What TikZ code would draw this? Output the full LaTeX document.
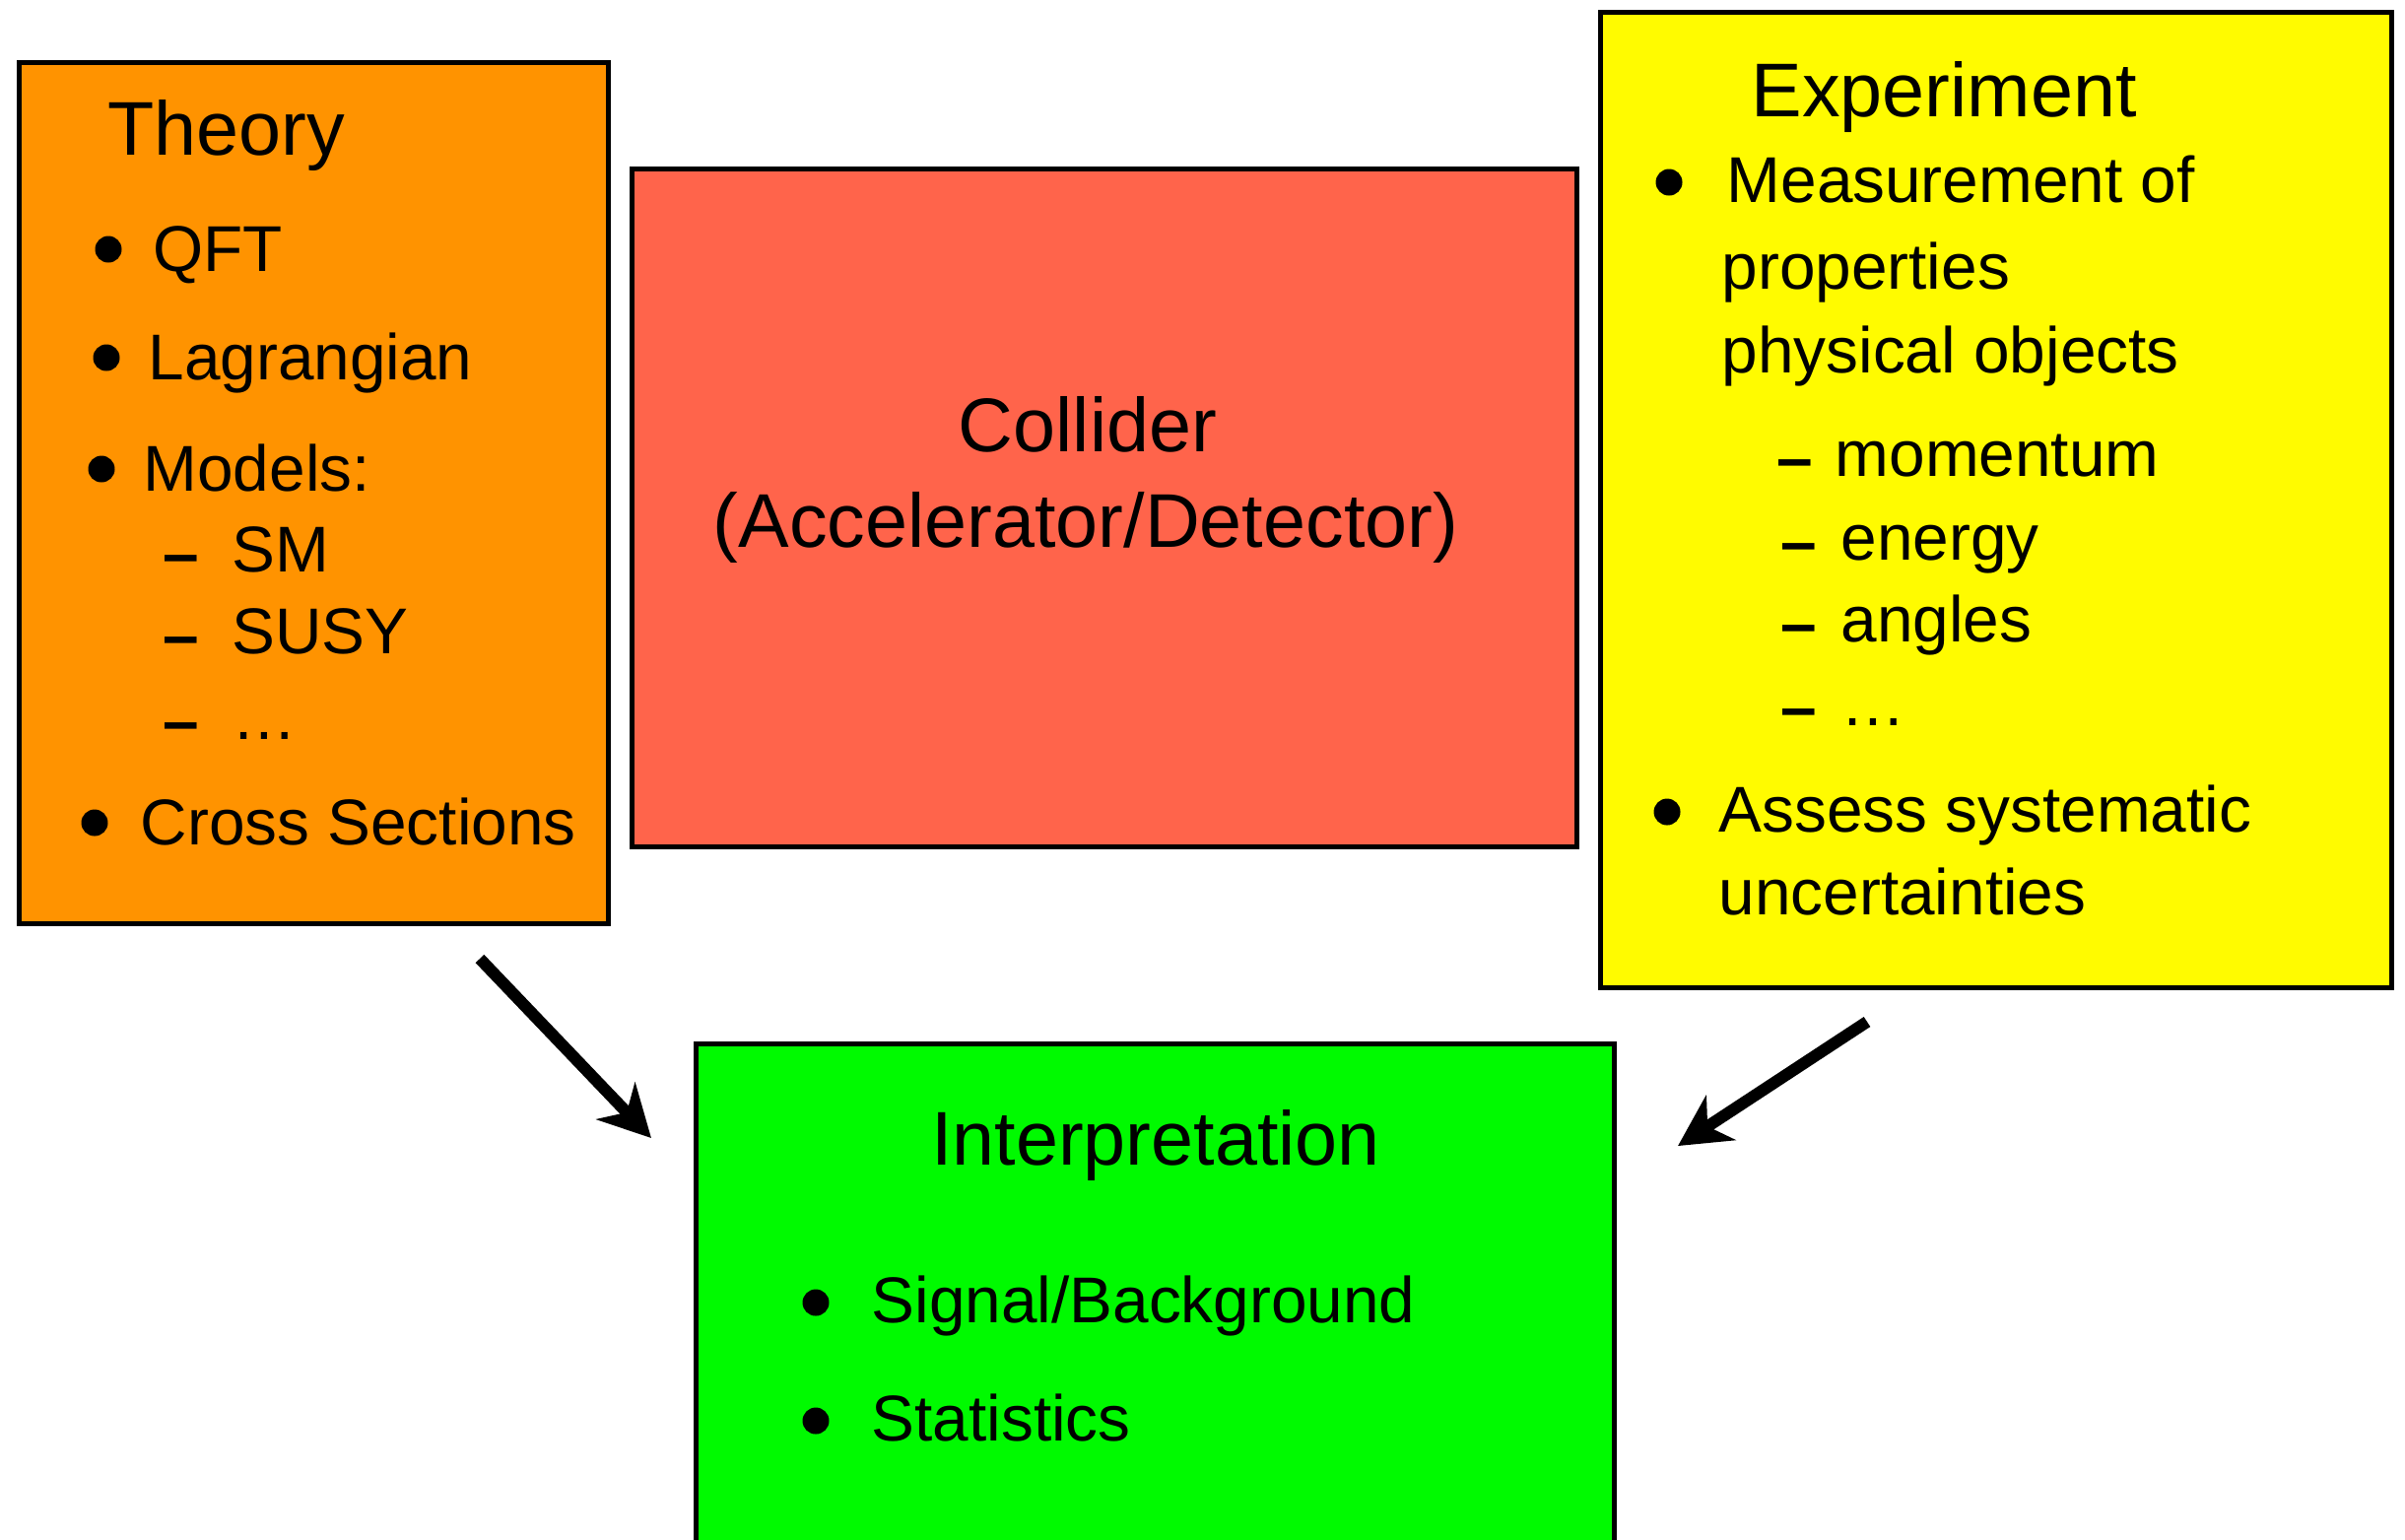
\documentclass[tikz,border=0pt]{standalone}
\usepackage{fontspec}
\setmainfont{Liberation Sans}
\usetikzlibrary{arrows.meta,fit}

\definecolor{theorycol}{RGB}{255,147,0}
\definecolor{collidercol}{RGB}{255,100,75}
\definecolor{experimentcol}{RGB}{255,251,0}
\definecolor{interpcol}{RGB}{0,250,0}

\begin{document}
\begin{tikzpicture}[x=0.1mm,y=-0.1mm]
      \tikzset{
        box/.style={draw,line width=0.5mm,inner sep=0pt},
        title/.style={font=\fontsize{22}{26}\selectfont,anchor=base,inner sep=0pt},
        txt/.style={font=\fontsize{18.7}{22}\selectfont,anchor=base west,inner sep=0pt},
        bul/.style={circle,fill,inner sep=0pt,minimum size=2.7mm},
        dsh/.style={font=\bfseries\fontsize{18.7}{22}\selectfont,anchor=base,inner sep=0pt,yshift=-0.4mm},
        flow/.style={line width=1.2mm,-{Stealth[length=5.2mm,width=5.4mm,inset=1.6mm]}}
      }

      \clip (0,0) rectangle (2441,1562);
      \fill[white] (0,0) rectangle (2441,1562);

      % BOXES
      \node[box,fill=theorycol,fit={(19,63) (617,937)}] (theory) {};
      \node[box,fill=collidercol,fit={(641,171) (1600,859)}] (collider) {};
      \node[box,fill=experimentcol,fit={(1624,12) (2427,1002)}] (experiment) {};
      \node[box,fill=interpcol,fit={(706,1059) (1638,1640)}] (interp) {};

      % THEORY
      \node[title] (thtitle) at (230,157) {Theory};
      \foreach \bx/\tx/\y/\t [count=\i] in
        {110/155/275/QFT, 108/150/385/Lagrangian, 103/145/498/Models:,
         96/142/857/Cross Sections}
        {\node[bul] (thb\i) at (\bx,{\y-22}) {};
         \node[txt] (tht\i) at (\tx,\y) {\t};}
      \foreach \bx/\tx/\y/\t [count=\i] in
        {184/235/580/SM, 184/235/663/SUSY, 184/235/750/…}
        {\node[dsh] (thd\i) at (\bx,\y) {–};
         \node[txt] (ths\i) at (\tx,\y) {\t};}

      % COLLIDER
      \node[title] (coltitle) at (1104,458) {Collider};
      \node[title] (colsub) at (1102,555) {(Accelerator/Detector)};

      % EXPERIMENT
      \node[title] (extitle) at (1973,118) {Experiment};
      \foreach \bx/\tx/\y/\t [count=\i] in
        {1694/1752/205/Measurement of, 1692/1744/844/Assess systematic}
        {\node[bul] (exb\i) at (\bx,{\y-20}) {};
         \node[txt] (ext\i) at (\tx,\y) {\t};}
      \node[txt] (exprop) at (1747,293) {properties};
      \node[txt] (exphys) at (1747,378) {physical objects};
      \node[txt] (exunc) at (1744,928) {uncertainties};
      \foreach \bx/\tx/\y/\t [count=\i] in
        {1822/1862/483/momentum, 1826/1868/568/energy,
         1826/1868/651/angles, 1826/1868/736/…}
        {\node[dsh] (exd\i) at (\bx,\y) {–};
         \node[txt] (exs\i) at (\tx,\y) {\t};}

      % INTERPRETATION
      \node[title] (intitle) at (1173,1182) {Interpretation};
      \foreach \bx/\tx/\y/\t [count=\i] in
        {828/884/1342/{Signal/Background}, 828/884/1462/Statistics}
        {\node[bul] (inb\i) at (\bx,{\y-20}) {};
         \node[txt] (int\i) at (\tx,\y) {\t};}

      % ARROWS
      \coordinate (thtail) at (487,973);
      \coordinate (thtip) at (661,1155);
      \coordinate (extail) at (1895,1037);
      \coordinate (extip) at (1703,1163);
      \draw[flow] (thtail) -- (thtip);
      \draw[flow] (extail) -- (extip);

\end{tikzpicture}
\end{document}
